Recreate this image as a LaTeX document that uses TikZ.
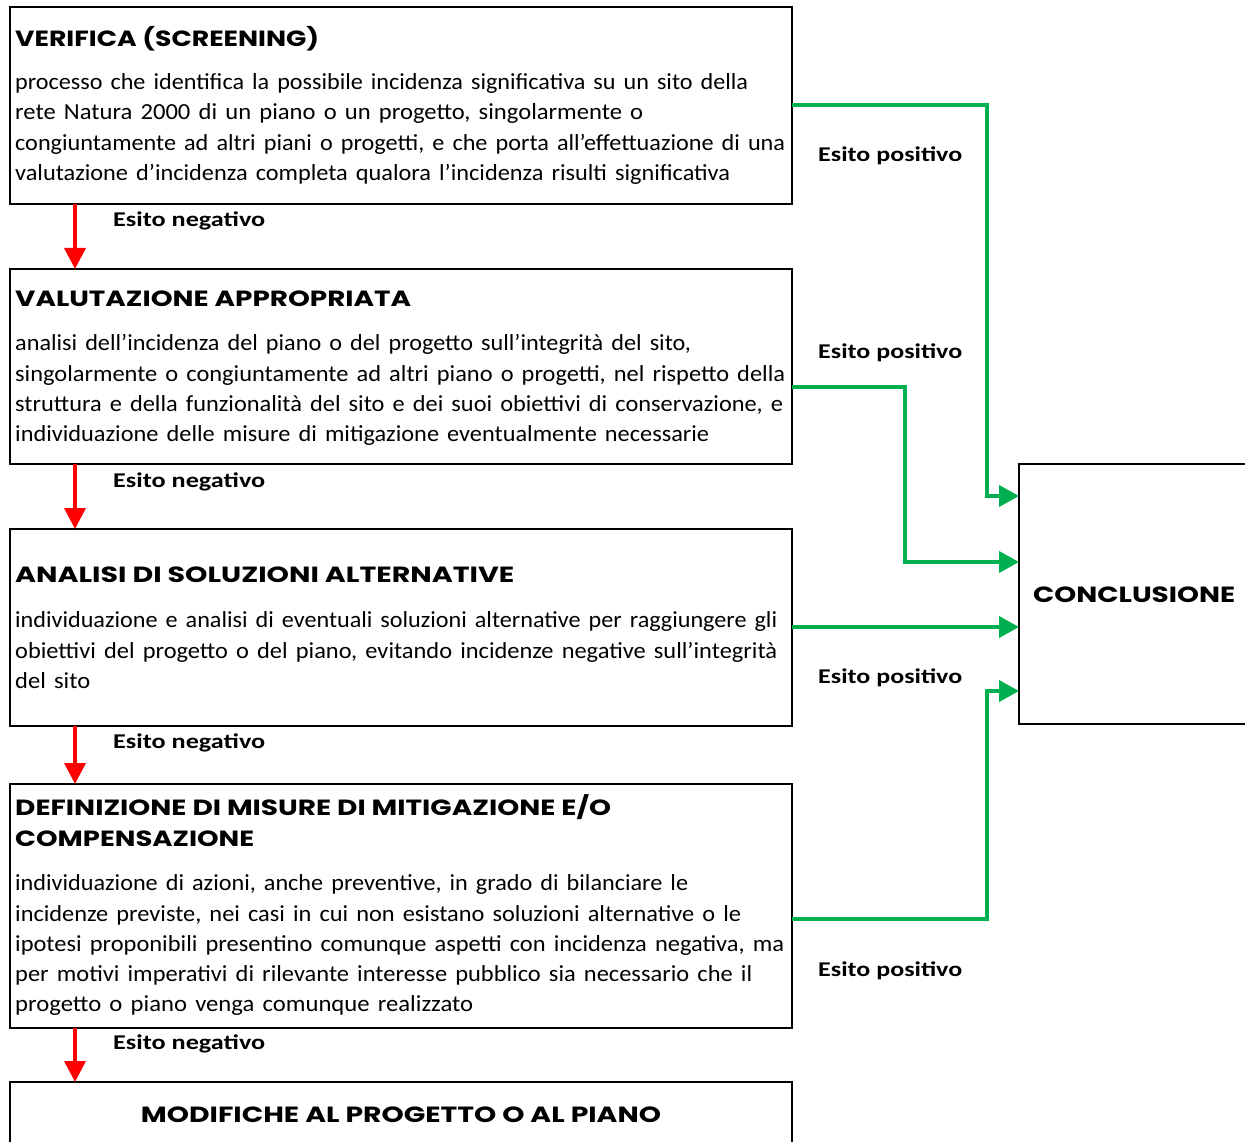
\documentclass[tikz,border=0pt]{standalone}
\usepackage{fontspec}
\usepackage{graphicx}
\setmainfont{Carlito}
\newfontfamily\headfont{Poppins}
\usetikzlibrary{arrows.meta,calc}
\newcommand\fl[2]{\resizebox{#1pt}{\height}{#2}}
\definecolor{pgreen}{RGB}{0,176,80}
\definecolor{pred}{RGB}{255,0,0}
\begin{document}
\begin{tikzpicture}[x=1pt,y=-1pt,
 flowbox/.style={draw, line width=2.5pt, inner sep=0pt, outer sep=0pt, anchor=north west},
 headtxt/.style={font=\headfont\bfseries\fontsize{22}{31}\selectfont, inner sep=0pt, anchor=base west},
 bodytxt/.style={font=\fontsize{23}{30.3}\selectfont, inner sep=0pt, anchor=north west, text width=800pt, align=left},
 lbltxt/.style={font=\bfseries\fontsize{21}{24}\selectfont, inner sep=0pt, anchor=base west},
 negarrow/.style={draw=pred, line width=3.5pt, -{Triangle[length=21pt,width=21pt]}},
 posarrow/.style={draw=pgreen, line width=4pt, -{Triangle[length=20pt,width=21pt]}},
]
\path[use as bounding box] (0,0) rectangle (1245,1142);
\clip (0,0) rectangle (1245,1142);

% boxes
\node[flowbox, minimum width=782pt, minimum height=197pt] (b1) at (10,7) {};
\node[flowbox, minimum width=782pt, minimum height=195pt] (b2) at (10,269) {};
\node[flowbox, minimum width=782pt, minimum height=197pt] (b3) at (10,529) {};
\node[flowbox, minimum width=782pt, minimum height=244pt] (b4) at (10,784) {};
\node[flowbox, minimum width=782pt, minimum height=90pt] (b5) at (10,1082) {};
\node[flowbox, minimum width=250pt, minimum height=260pt] (concl) at (1019,464) {};

% titles
\node[headtxt] (t1) at (15,46.5) {\fl{304}{VERIFICA (SCREENING)}};
\node[headtxt] (t2) at (15,306.5) {\fl{396}{VALUTAZIONE APPROPRIATA}};
\node[headtxt] (t3) at (15,582.5) {\fl{499}{ANALISI DI SOLUZIONI ALTERNATIVE}};
\node[headtxt] (t4a) at (15,815.5) {\fl{596}{DEFINIZIONE DI MISURE DI MITIGAZIONE E/O}};
\node[headtxt] (t4b) at (15,846.5) {\fl{239}{COMPENSAZIONE}};
\node[headtxt, anchor=base] (t5) at (401,1122.5) {\fl{520}{MODIFICHE AL PROGETTO O AL PIANO}};
\node[headtxt] (tc) at (1033,602) {\fl{202}{CONCLUSIONE}};

% bodies
\node[bodytxt] (d1) at (15,69.5) {\rule{0pt}{20pt}\fl{733}{processo che identifica la possibile incidenza significativa su un sito della}\\
\fl{628}{rete Natura 2000 di un piano o un progetto, singolarmente o}\\
\fl{770}{congiuntamente ad altri piani o progetti, e che porta all’effettuazione di una}\\
\fl{715}{valutazione d’incidenza completa qualora l’incidenza risulti significativa}};

\node[bodytxt] (d2) at (15,330.5) {\rule{0pt}{20pt}\fl{676}{analisi dell’incidenza del piano o del progetto sull’integrità del sito,}\\
\fl{770}{singolarmente o congiuntamente ad altri piano o progetti, nel rispetto della}\\
\fl{768}{struttura e della funzionalità del sito e dei suoi obiettivi di conservazione, e}\\
\fl{694}{individuazione delle misure di mitigazione eventualmente necessarie}};

\node[bodytxt] (d3) at (15,607.5) {\rule{0pt}{20pt}\fl{762}{individuazione e analisi di eventuali soluzioni alternative per raggiungere gli}\\
\fl{762}{obiettivi del progetto o del piano, evitando incidenze negative sull’integrità}\\
\fl{75}{del sito}};

\node[bodytxt] (d4) at (15,870.5) {\rule{0pt}{20pt}\fl{673}{individuazione di azioni, anche preventive, in grado di bilanciare le}\\
\fl{726}{incidenze previste, nei casi in cui non esistano soluzioni alternative o le}\\
\fl{769}{ipotesi proponibili presentino comunque aspetti con incidenza negativa, ma}\\
\fl{737}{per motivi imperativi di rilevante interesse pubblico sia necessario che il}\\
\fl{458}{progetto o piano venga comunque realizzato}};

% labels
\node[lbltxt] (n1) at (113,227) {\fl{152}{Esito negativo}};
\node[lbltxt] (n2) at (113,487) {\fl{152}{Esito negativo}};
\node[lbltxt] (n3) at (113,748) {\fl{152}{Esito negativo}};
\node[lbltxt] (n4) at (113,1049) {\fl{152}{Esito negativo}};
\node[lbltxt] (p1) at (818,162) {\fl{144}{Esito positivo}};
\node[lbltxt] (p2) at (818,358) {\fl{144}{Esito positivo}};
\node[lbltxt] (p3) at (818,683) {\fl{144}{Esito positivo}};
\node[lbltxt] (p4) at (818,976) {\fl{144}{Esito positivo}};

% helper coordinates
\coordinate (ax) at (75,0);
\coordinate (v1) at (987,0);
\coordinate (v2) at (905,0);
\coordinate (y2) at (0,387);
\coordinate (y4) at (0,919);
\coordinate (e1) at (0,496);
\coordinate (e2) at (0,562);
\coordinate (e3) at (0,627);
\coordinate (e4) at (0,691);

% red arrows
\draw[negarrow] (b1.south -| ax) -- (b2.north -| ax);
\draw[negarrow] (b2.south -| ax) -- (b3.north -| ax);
\draw[negarrow] (b3.south -| ax) -- (b4.north -| ax);
\draw[negarrow] (b4.south -| ax) -- (b5.north -| ax);

% green arrows
\draw[posarrow] (b1.east) -| (v1 |- e1) -- (concl.west |- e1);
\draw[posarrow] (b2.east |- y2) -| (v2 |- e2) -- (concl.west |- e2);
\draw[posarrow] (b3.east |- e3) -- (concl.west |- e3);
\draw[posarrow] (b4.east |- y4) -| (v1 |- e4) -- (concl.west |- e4);
\end{tikzpicture}
\end{document}
